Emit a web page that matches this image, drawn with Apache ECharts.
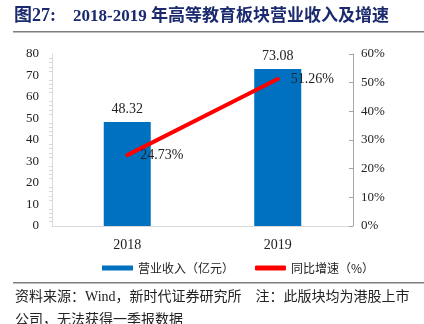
<!DOCTYPE html>
<html><head><meta charset="utf-8">
<script src="https://cdn.jsdelivr.net/npm/echarts@6/dist/echarts.min.js"></script>
<style>html,body{margin:0;padding:0;background:#fff}#c{width:424px;height:324px}</style>
</head><body><div id="c"></div>
<script>
const categories = ['2018', '2019'];
const revenue = [48.32, 73.08];
const growth = [24.73, 51.26];
const leftTicks = [0, 10, 20, 30, 40, 50, 60, 70, 80];
const rightTicks = [0, 10, 20, 30, 40, 50, 60];
const seriesNames = ['营业收入（亿元）', '同比增速（%）'];
const titleText = '2018-2019 年高等教育板块营业收入及增速';
const figNo = '图27:';
const sourceLine1 = '资料来源：Wind，新时代证券研究所    注：此版块均为港股上市';
const sourceLine2 = '公司，无法获得一季报数据';

const serif = '"Liberation Serif", "Times New Roman", "Noto Sans CJK SC", serif';
const chart = echarts.init(document.getElementById('c'), null, {renderer: 'canvas'});
chart.setOption({
  animation: false,
  backgroundColor: '#fff',
  grid: {left: 52, right: 71, top: 54, bottom: 98},
  legend: {
    left: 97, top: 257,
    itemWidth: 31, itemHeight: 5, itemGap: 21,
    textStyle: {fontSize: 12, color: '#222', fontFamily: '"Noto Sans CJK SC", sans-serif'},
    data: [{name: seriesNames[0], icon: 'rect'}, {name: seriesNames[1], icon: 'roundRect'}]
  },
  xAxis: {
    type: 'category', data: categories,
    axisLine: {lineStyle: {color: '#d9d9d9'}},
    axisTick: {show: false},
    axisLabel: {fontSize: 14, color: '#222', fontFamily: serif, margin: 12}
  },
  yAxis: [{
    type: 'value', min: leftTicks[0], max: leftTicks[leftTicks.length - 1], interval: 10,
    axisLine: {show: true, lineStyle: {color: '#d9d9d9'}},
    axisTick: {show: false},
    minorTick: {show: true, splitNumber: 5, length: 3, lineStyle: {color: '#d9d9d9'}},
    splitLine: {show: false},
    axisLabel: {fontSize: 13, color: '#222', fontFamily: serif, margin: 13}
  }, {
    type: 'value', min: rightTicks[0], max: rightTicks[rightTicks.length - 1], interval: 10,
    position: 'right',
    axisLine: {show: true, lineStyle: {color: '#a6a6a6'}},
    axisTick: {show: true, inside: true, length: 4, lineStyle: {color: '#a6a6a6'}},
    splitLine: {show: false},
    axisLabel: {fontSize: 13, color: '#222', fontFamily: serif, margin: 8, formatter: '{value}%'}
  }],
  series: [{
    name: seriesNames[0], type: 'bar', data: revenue, barWidth: 47,
    itemStyle: {color: '#0070C0'},
    label: {show: true, position: 'top', distance: 6, fontSize: 14, color: '#222', fontFamily: serif}
  }, {
    name: seriesNames[1], type: 'line', yAxisIndex: 1, data: growth,
    symbol: 'circle', symbolSize: 2, showSymbol: true,
    lineStyle: {color: '#FF0000', width: 4, cap: 'round'},
    itemStyle: {color: '#FF0000'},
    label: {show: true, position: 'right', distance: 12, fontSize: 14, color: '#222', fontFamily: serif, formatter: '{c}%'}
  }],
  graphic: [
    {type: 'text', left: 14, top: 7, style: {text: figNo, font: 'bold 18px ' + serif, fill: '#1b2a6e'}},
    {type: 'text', left: 73, top: 8, style: {text: titleText, font: 'bold 17px ' + serif, fill: '#1b2a6e'}},
    {type: 'rect', shape: {x: 13, y: 31, width: 411, height: 1.5}, style: {fill: '#7f7f7f'}},
    {type: 'rect', shape: {x: 13, y: 282, width: 411, height: 1.5}, style: {fill: '#7f7f7f'}},
    {type: 'text', left: 15, top: 290, style: {text: sourceLine1, font: '14px ' + serif, fill: '#222'}},
    {type: 'text', left: 15, top: 313, style: {text: sourceLine2, font: '14px ' + serif, fill: '#222'}}
  ]
});
</script></body></html>
